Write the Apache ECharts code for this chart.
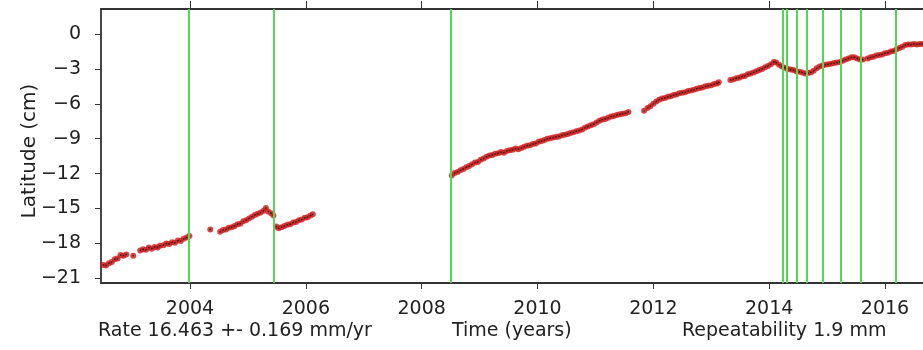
<!DOCTYPE html>
<html>
<head>
<meta charset="utf-8">
<script src="https://cdn.jsdelivr.net/npm/echarts@6/dist/echarts.min.js"></script>
<style>html,body{margin:0;padding:0;background:#fff;}#c{width:923px;height:350px;}</style>
</head>
<body>
<div id="c"></div>
<script>
// ---- data (decimal year, latitude cm) ----
const seg2002 = [[2002.46,-19.95],[2002.50,-19.85],[2002.55,-19.9],[2002.60,-19.7],[2002.65,-19.6],[2002.70,-19.35],[2002.75,-19.3],[2002.80,-19.0],[2002.85,-19.05],[2002.90,-18.95],[2003.02,-19.05]];
const seg2003 = [[2003.14,-18.6],[2003.19,-18.5],[2003.24,-18.55],[2003.29,-18.35],[2003.34,-18.45],[2003.39,-18.3],[2003.44,-18.35],[2003.48,-18.2],
  [2003.54,-18.15],[2003.59,-18.0],[2003.64,-18.05],[2003.69,-17.9],[2003.74,-17.95],[2003.79,-17.75],[2003.84,-17.8],[2003.89,-17.6],[2003.94,-17.5],[2003.99,-17.35],[2004.35,-16.8]];
const seg2004 = [[2004.52,-17.0],[2004.57,-16.85],[2004.62,-16.8],[2004.67,-16.65],[2004.72,-16.6],[2004.77,-16.5],[2004.82,-16.35],[2004.87,-16.3],[2004.92,-16.1],[2004.97,-16.0],
  [2005.02,-15.85],[2005.07,-15.7],[2005.12,-15.55],[2005.17,-15.45],[2005.22,-15.35],[2005.27,-15.2],[2005.31,-14.95],[2005.35,-15.25],[2005.40,-15.4],[2005.44,-15.6]];
const seg2005 = [[2005.49,-16.55],[2005.53,-16.7],[2005.58,-16.6],[2005.63,-16.5],[2005.68,-16.4],[2005.73,-16.35],[2005.78,-16.2],[2005.83,-16.15],[2005.88,-16.0],[2005.93,-15.95],
  [2005.98,-15.8],[2006.03,-15.75],[2006.08,-15.6],[2006.12,-15.5]];
const seg2008 = [[2008.52,-12.15],[2008.57,-11.95],[2008.62,-11.85],[2008.67,-11.7],[2008.72,-11.6],[2008.77,-11.45],[2008.82,-11.35],[2008.87,-11.2],[2008.92,-11.05],[2008.97,-11.0],
  [2009.02,-10.8],[2009.07,-10.7],[2009.12,-10.55],[2009.17,-10.45],[2009.22,-10.4],[2009.27,-10.3],[2009.32,-10.25],[2009.37,-10.15],[2009.42,-10.2],[2009.47,-10.05],
  [2009.52,-10.0],[2009.57,-9.95],[2009.62,-9.85],[2009.67,-9.9],[2009.72,-9.8],[2009.77,-9.7],[2009.82,-9.6],[2009.87,-9.55],[2009.92,-9.45],[2009.97,-9.4],
  [2010.02,-9.25],[2010.07,-9.2],[2010.12,-9.1],[2010.17,-9.0],[2010.22,-8.95],[2010.27,-8.9],[2010.32,-8.85],[2010.37,-8.8],[2010.42,-8.7],[2010.47,-8.65],
  [2010.52,-8.6],[2010.57,-8.5],[2010.62,-8.45],[2010.67,-8.35],[2010.72,-8.3],[2010.77,-8.2],[2010.82,-8.05],[2010.87,-7.95],[2010.92,-7.85],[2010.97,-7.75],
  [2011.02,-7.6],[2011.07,-7.45],[2011.12,-7.35],[2011.17,-7.3],[2011.22,-7.2],[2011.27,-7.1],[2011.32,-7.05],[2011.37,-6.95],[2011.42,-6.9],[2011.47,-6.85],
  [2011.52,-6.8],[2011.57,-6.7],[2011.84,-6.6]];
const seg2012 = [[2011.90,-6.35],[2011.95,-6.2],[2012.00,-6.0],[2012.05,-5.8],[2012.10,-5.65],[2012.15,-5.55],[2012.20,-5.5],[2012.25,-5.4],[2012.30,-5.35],[2012.35,-5.25],
  [2012.40,-5.2],[2012.45,-5.1],[2012.50,-5.05],[2012.55,-5.0],[2012.60,-4.9],[2012.65,-4.85],[2012.70,-4.8],[2012.75,-4.7],[2012.80,-4.65],[2012.85,-4.6],
  [2012.90,-4.5],[2012.95,-4.45],[2013.00,-4.4],[2013.05,-4.3],[2013.10,-4.25],[2013.13,-4.15]];
const seg2013 = [[2013.33,-3.95],[2013.38,-3.9],[2013.43,-3.8],[2013.48,-3.75],[2013.53,-3.65],[2013.58,-3.6],[2013.63,-3.45],[2013.68,-3.4],[2013.73,-3.3],[2013.78,-3.2],
  [2013.83,-3.1],[2013.88,-3.0],[2013.93,-2.85],[2013.98,-2.75],[2014.03,-2.6],[2014.08,-2.4],[2014.12,-2.45],[2014.17,-2.65],[2014.22,-2.8],[2014.27,-2.9],
  [2014.32,-3.0],[2014.37,-3.05],[2014.42,-3.1],[2014.47,-3.2],[2014.52,-3.25],[2014.57,-3.3],[2014.62,-3.4],[2014.67,-3.35],[2014.72,-3.3],[2014.77,-3.15],
  [2014.82,-2.95],[2014.87,-2.8],[2014.92,-2.7],[2014.97,-2.65],[2015.02,-2.6],[2015.07,-2.55],[2015.12,-2.5],[2015.17,-2.45],[2015.22,-2.4],[2015.27,-2.3],
  [2015.32,-2.2],[2015.37,-2.1],[2015.42,-2.0],[2015.47,-2.0],[2015.52,-2.1],[2015.57,-2.2],[2015.62,-2.2],
  [2015.70,-2.1],[2015.75,-2.0],[2015.80,-1.95],[2015.85,-1.85],[2015.90,-1.8],[2015.95,-1.75],[2016.00,-1.65],[2016.05,-1.6],[2016.10,-1.5],
  [2016.15,-1.45],[2016.20,-1.3],[2016.25,-1.2],[2016.30,-1.1],[2016.35,-0.95],[2016.40,-0.9],[2016.45,-0.9],[2016.50,-0.85],[2016.55,-0.9],[2016.60,-0.85],[2016.65,-0.85]];
const eventYears = [2003.98, 2005.45, 2008.50, 2014.23, 2014.31, 2014.48, 2014.65, 2014.92, 2015.23, 2015.58, 2016.18];
const xTicks = [2004, 2006, 2008, 2010, 2012, 2014, 2016];
const yTicks = [0, -3, -6, -9, -12, -15, -18, -21];
const xRange = [2002.463, 2016.656];
const yRange = [-21.4, 2.15];
const rateText = 'Rate 16.463 +- 0.169 mm/yr';
const xTitle = 'Time (years)';
const repText = 'Repeatability 1.9 mm';
const yTitle = 'Latitude (cm)';

const allData = [].concat(seg2002, seg2003, seg2004, seg2005, seg2008, seg2012, seg2013);
const FONT = 'DejaVu Sans';
const TXT = '#222';
const AX = '#333';
const fmt = v => (v < 0 ? '\u2212' + Math.abs(v) : String(v));

const chart = echarts.init(document.getElementById('c'), null, {renderer: 'canvas'});
chart.setOption({
  animation: false,
  backgroundColor: '#fff',
  grid: {left: 101, top: 9, right: 0, bottom: 67, containLabel: false},
  xAxis: [{
    type: 'value', position: 'bottom', min: xRange[0], max: xRange[1],
    axisLine: {show: true, onZero: false, lineStyle: {color: AX, width: 1.8}},
    axisTick: {show: true, customValues: xTicks, length: 6, lineStyle: {color: AX, width: 1}},
    axisLabel: {customValues: xTicks, formatter: v => String(v), margin: 17, fontFamily: FONT, fontSize: 19, color: TXT},
    splitLine: {show: false}
  }, {
    type: 'value', position: 'top', min: xRange[0], max: xRange[1],
    axisLine: {show: true, onZero: false, lineStyle: {color: AX, width: 1.8}},
    axisTick: {show: true, customValues: xTicks, length: 8, lineStyle: {color: AX, width: 1}},
    axisLabel: {show: false},
    splitLine: {show: false}
  }],
  yAxis: {
    type: 'value', min: yRange[0], max: yRange[1],
    axisLine: {show: true, onZero: false, lineStyle: {color: AX, width: 1.8}},
    axisTick: {show: true, customValues: yTicks, length: 6, lineStyle: {color: AX, width: 1}},
    axisLabel: {customValues: yTicks, formatter: fmt, margin: 20, fontFamily: FONT, fontSize: 19, color: TXT},
    splitLine: {show: false}
  },
  series: [{
    type: 'scatter', data: allData, symbol: 'circle', symbolSize: 6,
    itemStyle: {color: '#d01a1a'}, z: 2, silent: true
  }, {
    type: 'scatter', data: allData, symbol: 'circle', symbolSize: 1.8,
    itemStyle: {color: '#1a1a1a'}, z: 3, silent: true
  }, {
    type: 'scatter', data: [], z: 4, silent: true,
    markLine: {
      silent: true, symbol: ['none', 'none'], animation: false,
      label: {show: false},
      lineStyle: {color: '#55d655', width: 2, type: 'solid'},
      data: eventYears.map(y => ({xAxis: y}))
    }
  }],
  graphic: [
    {type: 'text', left: 98, top: 322, style: {text: rateText, font: '19px "DejaVu Sans"', fill: TXT}},
    {type: 'text', left: 452, top: 322, style: {text: xTitle, font: '19px "DejaVu Sans"', fill: TXT}},
    {type: 'text', left: 682, top: 322, style: {text: repText, font: '19px "DejaVu Sans"', fill: TXT}},
    {type: 'text', x: 30, y: 151, rotation: Math.PI / 2,
      style: {text: yTitle, font: '20px "DejaVu Sans"', fill: TXT, textAlign: 'center', textVerticalAlign: 'middle'}}
  ]
});
</script>
</body>
</html>
